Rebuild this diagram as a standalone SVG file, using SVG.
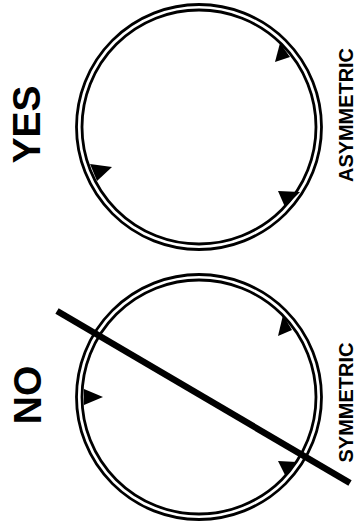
<svg xmlns="http://www.w3.org/2000/svg" width="357" height="527" viewBox="0 0 357 527">
<style>
.ring{fill:none;stroke:#000;stroke-width:2.8}
.tri{fill:#000}
.big{font-family:"Liberation Sans",Arial,sans-serif;font-weight:bold;font-size:39px;fill:#000}
.small{font-family:"Liberation Sans",Arial,sans-serif;font-weight:bold;font-size:21px;fill:#000}
</style>
<rect width="357" height="527" fill="#fff"/>
<g id="yes-circle">
<circle class="ring" cx="199" cy="127" r="122.5"/>
<circle class="ring" cx="199" cy="127" r="117"/>
<polygon class="tri" points="280,43 290,57 275,62"/>
<polygon class="tri" points="90,164 97,181 112,167"/>
<polygon class="tri" points="300,192 285,207 278,191"/>
</g>
<g id="no-circle">
<circle class="ring" cx="199" cy="397" r="122.5"/>
<circle class="ring" cx="199" cy="397" r="117"/>
<polygon class="tri" points="283,315 292,330 278,336"/>
<polygon class="tri" points="84,389 84,405 103,397"/>
<polygon class="tri" points="297,462 285,475 278,461"/>
</g>
<g id="connectors">
<line x1="57" y1="311" x2="350" y2="483" stroke="#000" stroke-width="6.5"/>
</g>
<g id="labels">
<text class="big" transform="translate(40,124.5) rotate(-90)" text-anchor="middle">YES</text>
<text class="big" transform="translate(41,395) rotate(-90)" text-anchor="middle">NO</text>
<text class="small" transform="translate(353,115) rotate(-90)" text-anchor="middle" textLength="134" lengthAdjust="spacingAndGlyphs">ASYMMETRIC</text>
<text class="small" transform="translate(353,402.5) rotate(-90)" text-anchor="middle" textLength="120" lengthAdjust="spacingAndGlyphs">SYMMETRIC</text>
</g>
</svg>
